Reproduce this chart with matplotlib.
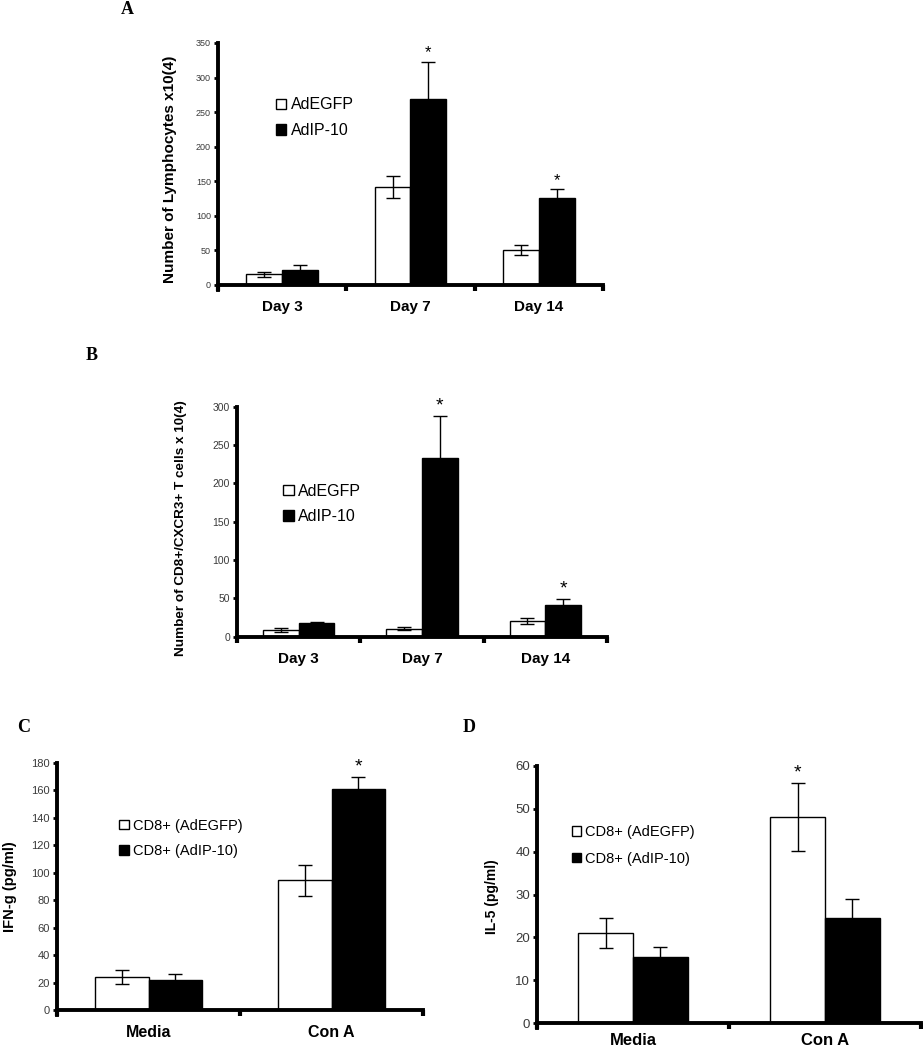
import numpy as np
import matplotlib.pyplot as plt
from matplotlib.patches import Patch

plt.rcParams['font.family'] = ['Liberation Sans', 'DejaVu Sans']

# panel A / B: days
days = ['Day 3', 'Day 7', 'Day 14']
a_egfp = [15.5, 142, 51]
a_egfp_err = [4, 16, 7.5]
a_ip10 = [22, 269, 126.5]
a_ip10_err = [6.5, 54, 12]
a_star = [False, True, True]

b_egfp = [8.7, 10.4, 21]
b_egfp_err = [2, 2, 4]
b_ip10 = [17.4, 233, 41.3]
b_ip10_err = [1.5, 55, 7.5]
b_star = [False, True, True]

# panel C / D: stimulation
stims = ['Media', 'Con A']
c_egfp = [23.8, 94.6]
c_egfp_err = [5, 11.3]
c_ip10 = [21.9, 161]
c_ip10_err = [4, 9]
c_star = [None, 'ip10']

d_egfp = [21.0, 48.1]
d_egfp_err = [3.4, 7.9]
d_ip10 = [15.4, 24.6]
d_ip10_err = [2.3, 4.3]
d_star = [None, 'egfp']

fig = plt.figure(figsize=(9.23, 10.5), dpi=100)


def panel(rect, cats, v1, e1, v2, e2, ymax, ystep, ylabel, labels, stars,
          tick_fs, ylab_fs, xlab_fs, xpad, ylab_pos, leg_anchor, leg_fs, leg_sp, w, star_fs):
    ax = fig.add_axes(rect)
    x = np.arange(len(cats))
    ax.bar(x - w / 2, v1, w, color='white', edgecolor='black', linewidth=1, zorder=2)
    ax.bar(x + w / 2, v2, w, color='black', edgecolor='black', linewidth=1, zorder=2)
    ax.errorbar(x - w / 2, v1, yerr=e1, fmt='none', ecolor='black', elinewidth=1,
                capsize=5, capthick=1, zorder=3)
    ax.errorbar(x + w / 2, v2, yerr=e2, fmt='none', ecolor='black', elinewidth=1,
                capsize=5, capthick=1, zorder=3)
    for i, s in enumerate(stars):
        if not s:
            continue
        if s == 'egfp':
            xs, top = x[i] - w / 2, v1[i] + e1[i]
        else:
            xs, top = x[i] + w / 2, v2[i] + e2[i]
        ax.annotate('*', (xs, top), xytext=(0, 1), textcoords='offset points',
                    ha='center', va='bottom', fontsize=star_fs)
    ax.set_xlim(-0.5, len(cats) - 0.5)
    ax.set_ylim(0, ymax)
    ax.set_yticks(np.arange(0, ymax + 1, ystep))
    ax.set_xticks(np.arange(len(cats) + 1) - 0.5)
    ax.set_xticklabels([])
    ax.set_xticks(x, minor=True)
    ax.set_xticklabels(cats, minor=True, fontweight='bold', fontsize=xlab_fs)
    ax.tick_params(axis='x', which='minor', length=0, pad=xpad)
    ax.tick_params(axis='x', which='major', length=4, width=3, direction='out')
    ax.tick_params(axis='y', length=3, width=2, labelsize=tick_fs, labelcolor='#3a3a3a', pad=2)
    for sp in ['top', 'right']:
        ax.spines[sp].set_visible(False)
    for sp in ['left', 'bottom']:
        ax.spines[sp].set_linewidth(2.8)
    ax.spines['left'].set_bounds(-ymax * 0.02, ymax)
    ax.set_ylabel(ylabel, fontweight='bold', fontsize=ylab_fs)
    ax.yaxis.set_label_coords(*ylab_pos)
    handles = [Patch(facecolor='white', edgecolor='black', linewidth=1),
               Patch(facecolor='black', edgecolor='black', linewidth=1)]
    ax.legend(handles, labels, loc='upper left', bbox_to_anchor=leg_anchor, frameon=False,
              fontsize=leg_fs, handlelength=0.65, handleheight=0.65, handletextpad=0.3,
              labelspacing=leg_sp, borderpad=0, borderaxespad=0)
    ax.set_facecolor('none')
    return ax


panel([218 / 923, 1 - 285 / 1050, 385 / 923, 242 / 1050], days,
      a_egfp, a_egfp_err, a_ip10, a_ip10_err, 350, 50,
      'Number of Lymphocytes x10(4)', ['AdEGFP', 'AdIP-10'], a_star,
      6.5, 11, 11, 11, (-0.106, 0.48), (0.15, 0.775), 11.5, 0.65, 0.28, 12)

panel([237 / 923, 1 - 636.7 / 1050, 370 / 923, 230 / 1050], days,
      b_egfp, b_egfp_err, b_ip10, b_ip10_err, 300, 50,
      'Number of CD8+/CXCR3+ T cells x 10(4)', ['AdEGFP', 'AdIP-10'], b_star,
      7.5, 9.7, 11, 11, (-0.135, 0.47), (0.125, 0.665), 11.5, 0.65, 0.29, 14)

panel([57 / 923, 1 - 1010 / 1050, 366 / 923, 247 / 1050], stims,
      c_egfp, c_egfp_err, c_ip10, c_ip10_err, 180, 20,
      'IFN-g (pg/ml)', ['CD8+ (AdEGFP)', 'CD8+ (AdIP-10)'], c_star,
      8, 10.5, 11.5, 11, (-0.108, 0.5), (0.17, 0.775), 10.5, 0.8, 0.29, 14)

panel([537 / 923, 1 - 1023 / 1050, 384 / 923, 257 / 1050], stims,
      d_egfp, d_egfp_err, d_ip10, d_ip10_err, 60, 10,
      'IL-5 (pg/ml)', ['CD8+ (AdEGFP)', 'CD8+ (AdIP-10)'], d_star,
      9.5, 10, 12, 7, (-0.1, 0.49), (0.09, 0.77), 10.5, 0.85, 0.285, 14)

# panel letters
for lbl, px, py in [('A', 127, 9), ('B', 92, 355), ('C', 24, 727), ('D', 469, 728)]:
    fig.text(px / 923, 1 - py / 1050, lbl, family='Liberation Serif', fontweight='bold',
             fontsize=13, ha='center', va='center')

fig.savefig('out.png', dpi=100)
